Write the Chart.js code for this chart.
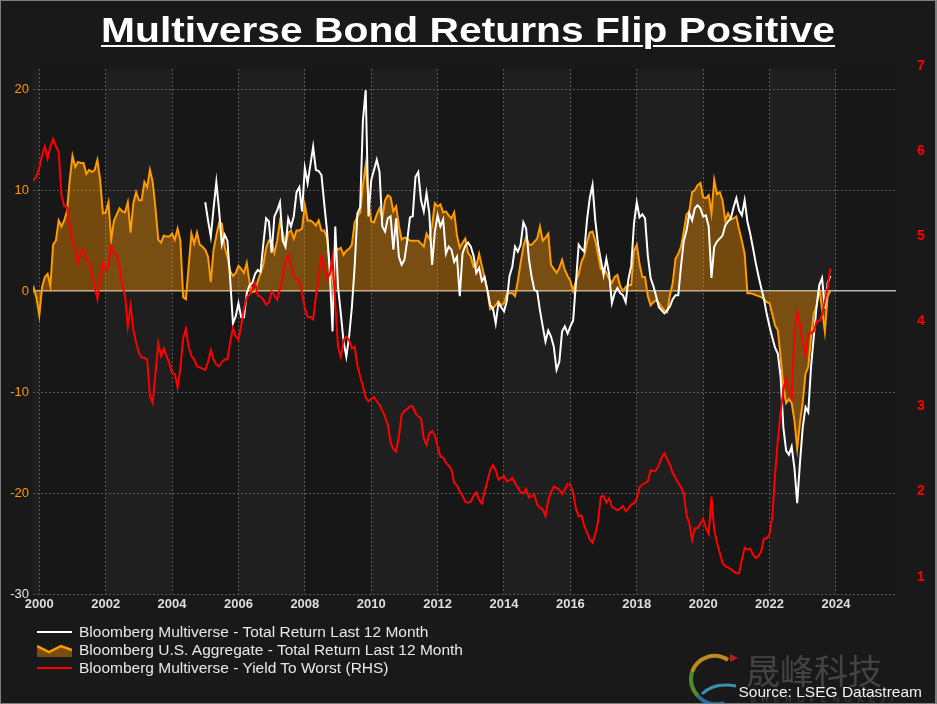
<!DOCTYPE html>
<html>
<head>
<meta charset="utf-8">
<script src="https://cdn.jsdelivr.net/npm/chart.js@4.4.0/dist/chart.umd.min.js"></script>
<style>
    html, body { margin: 0; padding: 0; background: #191919; }
    #wrap { position: relative; width: 937px; height: 704px; overflow: hidden; background: #191919; font-family: "Liberation Sans", Arial, sans-serif; }
    #chart { position: absolute; left: 0; top: 0; }
    #frame { position: absolute; left: 0; top: 0; width: 934px; height: 702px; border: 1px solid #7c7c7c; border-right-width: 2px; pointer-events: none; }
    #title { position: absolute; left: 0; top: 12px; width: 937px; text-align: center; }
    #title span { display: inline-block; font-family: "Liberation Sans", Arial, sans-serif; font-weight: bold; font-size: 35px; line-height: 36px; color: #ffffff; text-decoration: underline; text-decoration-thickness: 2px; text-underline-offset: 3px; white-space: nowrap; transform-origin: 50% 50%; }
    #legend { position: absolute; left: 37px; top: 623px; color: #e8e8e8; font-size: 15.5px; }
    .row { height: 18px; line-height: 18px; display: flex; align-items: center; white-space: nowrap; }
    .row svg { margin-right: 7px; flex: none; }
    #watermark { position: absolute; left: 746px; top: 650px; font-family: "Noto Sans CJK SC", sans-serif; font-size: 34px; line-height: 40px; color: rgba(110, 110, 110, 0.5); }
    #wmsub { position: absolute; left: 750px; top: 694px; font-size: 9px; line-height: 10px; letter-spacing: 5.6px; color: rgba(120, 120, 120, 0.45); }
    #logo { position: absolute; left: 684px; top: 650px; opacity: 0.85; }
    #source { position: absolute; right: 15px; top: 683px; font-size: 15.5px; line-height: 18px; color: #f2f2f2; }
</style>
</head>
<body>
<div id="wrap">
    <canvas id="chart" width="937" height="704"></canvas>
    <div id="title"><span id="titleText">Multiverse Bond Returns Flip Positive</span></div>
    <div id="legend">
        <div class="row"><svg width="35" height="12"><line x1="0" y1="6" x2="35" y2="6" stroke="#ffffff" stroke-width="2"/></svg>Bloomberg Multiverse - Total Return Last 12 Month</div>
        <div class="row"><svg width="35" height="14"><polygon points="0,3 12,9 24,3 35,7 35,14 0,14" fill="rgba(255,150,0,0.42)"/><polyline points="0,3 12,9 24,3 35,7" fill="none" stroke="#ff9c00" stroke-width="2.5"/></svg>Bloomberg U.S. Aggregate - Total Return Last 12 Month</div>
        <div class="row"><svg width="35" height="12"><line x1="0" y1="6" x2="35" y2="6" stroke="#ff0000" stroke-width="2"/></svg>Bloomberg Multiverse - Yield To Worst (RHS)</div>
    </div>
    <svg id="logo" width="56" height="54" viewBox="0 0 56 54">
        <path d="M44 10 A24 24 0 0 0 8 22" stroke="#d9a21b" stroke-width="4" fill="none"/>
        <path d="M8 22 A24 24 0 0 0 14 46" stroke="#5aa02c" stroke-width="4" fill="none"/>
        <path d="M14 46 A24 24 0 0 0 40 53" stroke="#2a7fc0" stroke-width="4" fill="none"/>
        <path d="M18 44 Q30 32 52 36" stroke="#3fa7c9" stroke-width="3" fill="none"/>
        <polygon points="46,4 54,8 46,12" fill="#d02020"/>
    </svg>
    <div id="watermark">晟峰科技</div>
    <div id="wmsub">SHENGFENGKEJI</div>
    <div id="source">Source: LSEG Datastream</div>
    <div id="frame"></div>
</div>
<script>
// Monthly observations, first one is Oct 1999
const startYear = 1999;
const startMonth = 10;

// Bloomberg U.S. Aggregate - total return last 12 months (%), Oct 1999 .. Oct 2023
const usAggReturn = [
    -0.5, 0.3, -0.7, -2.4, 0.4, 1.4, 1.7, 0.5, 4.6, 5.0, 7.0, 6.4, 7.0,
    7.9, 11.0, 13.4, 12.3, 12.8, 12.7, 12.7, 11.6, 12.0, 11.8,
    12.0, 13.0, 11.0, 7.7, 7.8, 8.8, 5.1, 7.0, 7.6, 8.2,
    7.9, 7.8, 8.8, 5.8, 8.7, 9.8, 9.0, 9.0, 10.8, 10.3,
    12.0, 10.8, 8.2, 5.1, 4.8, 5.5, 5.4, 5.4, 5.7, 5.1,
    6.2, 5.0, -0.6, -0.8, 2.5, 5.7, 4.7, 5.8, 4.6, 4.4,
    4.1, 3.4, 0.9, 4.1, 5.5, 6.8, 6.7, 4.4, 3.4, 2.0,
    1.5, 1.8, 2.5, 2.2, 1.8, 2.8, 0.9, -0.1, 0.0, 1.0,
    1.8, 2.6, 4.3, 5.0, 4.9, 3.8, 5.0, 6.9, 5.8, 4.5,
    5.8, 6.0, 5.2, 6.0, 6.0, 6.2, 8.5, 7.0, 7.0, 6.8,
    6.5, 7.0, 6.0, 6.0, 5.3, 2.5, 1.1, 4.4, 4.1, 4.3,
    3.6, 4.0, 4.2, 4.6, 6.8, 7.4, 7.8, 10.5, 12.5, 9.0,
    6.9, 6.8, 7.6, 8.2, 7.2, 9.0, 9.5, 9.3, 7.9, 8.4,
    6.5, 5.1, 5.3, 5.2, 5.0, 5.0, 5.0, 5.0, 4.7, 4.4,
    5.7, 5.2, 6.5, 8.7, 8.4, 8.6, 7.8, 7.9, 7.5, 7.2,
    7.8, 5.5, 4.3, 4.8, 5.2, 3.8, 3.4, 2.4, 2.5, 3.7,
    2.5, 1.3, 0.0, -1.8, -1.7, -1.4, -1.0, -1.4, -1.2, -0.3,
    -0.2, -0.2, -0.5, 1.0, 2.8, 4.4, 5.4, 4.6, 4.6, 4.9,
    5.2, 6.4, 5.0, 5.3, 5.7, 2.6, 2.2, 1.8, 2.3, 3.1,
    2.1, 1.5, 1.0, 0.0, 1.0, 1.7, 2.9, 3.5, 4.8, 5.8,
    5.9, 5.0, 3.6, 2.2, 2.3, 1.8, 1.2, 0.8, 1.4, 1.6,
    0.5, 0.0, 0.4, 0.6, 0.6, 4.0, 4.6, 2.7, 1.4, 1.4,
    -0.5, -1.4, -1.1, -0.9, -1.2, -1.6, -1.9, -2.1, -0.4, 0.8,
    3.2, 3.7, 4.4, 5.9, 7.6, 7.9, 9.8, 10.0, 10.5, 10.7,
    9.3, 9.2, 9.5, 7.7, 11.0, 9.6, 9.8, 9.0, 7.0, 7.7,
    7.1, 7.2, 7.4, 6.1, 5.0, 3.7, -0.2, -0.2, -0.3, -0.4,
    -0.5, -0.6, -0.8, -1.1, -1.2, -2.3, -3.4, -3.9, -6.5, -9.5,
    -11.1, -10.7, -11.1, -12.8, -15.6, -13.0, -11.0, -8.2, -7.5, -4.6,
    -2.2, -1.5, 0.3, -1.8, -4.0, -0.5, 0.0
];

// Bloomberg Multiverse - total return last 12 months (%), starts Jan 2005
const multiverseOffset = 63;
const multiverseReturn = [
    8.8, 7.0, 5.4, 8.2, 10.8, 8.0, 4.6, 5.6, 5.0, 1.2,
    -3.2, -2.5, -1.2, -2.6, -2.6, -0.2, 0.6, 0.8, 1.7, 2.1,
    1.9, 4.7, 7.2, 6.9, 3.8, 7.4, 8.0, 8.8, 5.0, 4.4,
    7.2, 6.4, 7.4, 9.8, 10.3, 7.9, 12.2, 10.7, 12.5, 14.3,
    12.0, 11.9, 11.5, 8.7, 6.0, 2.0, -4.0, 6.4, 0.4, -2.2,
    -5.0, -6.5, -4.5, -1.6, 2.4, 7.7, 8.3, 16.9, 19.9, 7.4,
    11.0, 12.0, 13.0, 11.8, 6.4, 5.9, 7.2, 7.4, 4.1, 7.2,
    3.4, 2.6, 3.1, 5.0, 7.3, 7.4, 11.3, 11.8, 9.0, 7.9,
    9.7, 7.7, 2.6, 5.9, 7.5, 6.4, 7.1, 3.7, 4.4, 4.1,
    2.9, 3.4, -0.5, 3.7, 4.5, 4.8, 4.4, 3.5, 1.8, 2.3,
    1.0, 1.4, 0.1, -1.4, -1.7, -3.2, -1.2, -1.6, -2.0, -1.0,
    1.5, 2.4, 4.4, 3.9, 4.6, 6.8, 6.2, 3.2, 1.4, 0.1,
    0.0, -1.9, -3.5, -5.0, -3.9, -4.5, -5.5, -7.8, -7.0, -4.0,
    -3.5, -4.2, -3.5, -2.9, 0.8, 4.6, 4.2, 3.9, 7.0, 9.2,
    10.5, 7.0, 4.6, 3.1, 1.6, 3.2, 1.7, -1.2, -0.2, 0.3,
    -0.2, -0.4, -1.1, 1.2, 2.5, 6.7, 8.8, 7.3, 7.6, 7.2,
    3.5, 1.3, 0.5, -0.5, -1.6, -1.9, -2.2, -1.9, -1.5, -0.8,
    -0.4, -0.4, 2.5, 5.0, 6.0, 7.7, 7.0, 8.2, 8.5, 8.2,
    7.4, 7.5, 6.4, 1.3, 4.4, 4.9, 5.2, 5.5, 6.5, 6.9,
    7.2, 8.3, 9.2, 8.0, 7.5, 9.0, 6.9, 5.7, 4.3, 2.8,
    1.5, 0.3, -0.8, -2.3, -3.5, -4.6, -5.6, -6.2, -8.5, -13.5,
    -15.8, -16.2, -15.4, -17.5, -21.0, -17.0, -13.5, -11.5, -12.0, -7.5,
    -4.5, -1.5, 0.6, 1.3, -1.7, 0.8, 1.5
];

// Bloomberg Multiverse - yield to worst (%), right axis, Oct 1999 .. Oct 2023
const multiverseYield = [
    5.64, 5.66, 5.70, 5.80, 5.95, 6.05, 5.91, 6.05, 6.14, 6.05, 5.99, 5.48, 5.35,
    5.34, 5.10, 4.92, 4.86, 4.68, 4.82, 4.84, 4.72, 4.70, 4.55,
    4.40, 4.26, 4.50, 4.69, 4.60, 4.63, 4.88, 4.80, 4.78, 4.62,
    4.42, 4.30, 3.94, 4.18, 3.90, 3.75, 3.63, 3.57, 3.57, 3.55,
    3.12, 3.04, 3.39, 3.74, 3.59, 3.68, 3.59, 3.51, 3.39, 3.38,
    3.22, 3.45, 3.80, 3.91, 3.70, 3.59, 3.55, 3.47, 3.46, 3.44,
    3.43, 3.52, 3.66, 3.55, 3.49, 3.47, 3.52, 3.55, 3.55, 3.75,
    3.92, 3.82, 3.78, 3.95, 4.15, 4.28, 4.31, 4.37, 4.45, 4.30,
    4.29, 4.25, 4.19, 4.22, 4.35, 4.30, 4.25, 4.38, 4.50, 4.70,
    4.77, 4.66, 4.52, 4.49, 4.48, 4.33, 4.15, 4.05, 4.05, 4.02,
    4.29, 4.50, 4.77, 4.65, 4.50, 4.55, 4.75, 4.20, 3.70, 3.58,
    3.78, 3.82, 3.78, 3.68, 3.70, 3.48, 3.35, 3.24, 3.10, 3.06,
    3.09, 3.11, 3.06, 3.02, 2.95, 2.88, 2.78, 2.57, 2.50, 2.47,
    2.65, 2.90, 2.95, 2.97, 3.00, 3.00, 2.92, 2.88, 2.86, 2.62,
    2.55, 2.68, 2.71, 2.66, 2.53, 2.41, 2.40, 2.34, 2.30, 2.26,
    2.10, 2.07, 2.00, 1.95, 1.88, 1.87, 1.88, 1.95, 1.99, 1.90,
    1.86, 2.00, 2.12, 2.25, 2.31, 2.25, 2.14, 2.16, 2.18, 2.12,
    2.13, 2.16, 2.10, 2.05, 1.99, 1.98, 2.03, 1.93, 1.95, 1.96,
    1.85, 1.81, 1.79, 1.71, 1.90, 1.99, 2.06, 2.04, 2.02, 1.97,
    2.02, 2.09, 2.08, 1.98, 1.80, 1.71, 1.72, 1.60, 1.52, 1.44,
    1.40, 1.50, 1.65, 1.94, 1.95, 1.87, 1.92, 1.82, 1.80, 1.78,
    1.80, 1.83, 1.77, 1.80, 1.85, 1.86, 1.92, 2.05, 2.08, 2.10,
    2.12, 2.25, 2.24, 2.25, 2.31, 2.40, 2.45, 2.38, 2.31, 2.22,
    2.16, 2.10, 2.05, 1.98, 1.72, 1.63, 1.43, 1.57, 1.57, 1.62,
    1.68, 1.57, 1.50, 1.94, 1.55, 1.40, 1.28, 1.16, 1.12, 1.11,
    1.09, 1.06, 1.04, 1.04, 1.20, 1.34, 1.32, 1.33, 1.26, 1.22,
    1.24, 1.30, 1.45, 1.45, 1.50, 1.70, 2.20, 2.60, 2.92, 3.20,
    3.33, 3.18, 3.10, 3.85, 4.10, 3.96, 3.75, 3.60, 3.85, 3.86,
    3.88, 4.00, 4.00, 4.08, 4.23, 4.40, 4.62
];

const yearTicks = [2000, 2002, 2004, 2006, 2008, 2010, 2012, 2014, 2016, 2018, 2020, 2022, 2024];
const leftTicks = [-30, -20, -10, 0, 10, 20];
const rightTicks = [1, 2, 3, 4, 5, 6, 7];

const FONT = '"Liberation Sans", Arial, sans-serif';

function toPoints(values, offset) {
    return values.map((v, i) => ({
        x: startYear + (startMonth - 1 + offset + i) / 12,
        y: v
    }));
}

// alternating two-year shading behind the plot
const bandPlugin = {
    id: 'bands',
    beforeDraw(chart) {
        const { ctx, chartArea, scales } = chart;
        const xs = scales.x;
        ctx.save();
        ctx.fillStyle = '#171717';
        ctx.fillRect(chartArea.left, chartArea.top, chartArea.width, chartArea.height);
        ctx.beginPath();
        ctx.rect(chartArea.left, chartArea.top, chartArea.width, chartArea.height);
        ctx.clip();
        ctx.fillStyle = '#1f1f1f';
        for (let y = 1998; y < 2028; y += 4) {
            const x0 = xs.getPixelForValue(y);
            const x1 = xs.getPixelForValue(y + 2);
            ctx.fillRect(x0, chartArea.top, x1 - x0, chartArea.height);
        }
        ctx.restore();
    }
};

const isZero = c => c.tick && c.tick.value === 0;

new Chart(document.getElementById('chart'), {
    type: 'line',
    data: {
        datasets: [
            {
                label: 'Bloomberg Multiverse - Yield To Worst (RHS)',
                data: toPoints(multiverseYield, 0),
                yAxisID: 'yRight',
                borderColor: '#ff0000',
                borderWidth: 2,
                pointRadius: 0,
                fill: false,
                order: 0
            },
            {
                label: 'Bloomberg Multiverse - Total Return Last 12 Month',
                data: toPoints(multiverseReturn, multiverseOffset),
                yAxisID: 'y',
                borderColor: '#ffffff',
                borderWidth: 2,
                pointRadius: 0,
                fill: false,
                order: 1
            },
            {
                label: 'Bloomberg U.S. Aggregate - Total Return Last 12 Month',
                data: toPoints(usAggReturn, 0),
                yAxisID: 'y',
                borderColor: '#ff9c00',
                backgroundColor: 'rgba(255, 150, 0, 0.40)',
                borderWidth: 2,
                pointRadius: 0,
                fill: 'origin',
                order: 2
            }
        ]
    },
    options: {
        responsive: false,
        animation: false,
        devicePixelRatio: 1,
        layout: { padding: { top: 69, left: 0, right: 0, bottom: 0 } },
        plugins: {
            legend: { display: false },
            title: { display: false },
            tooltip: { enabled: false }
        },
        scales: {
            x: {
                type: 'linear',
                min: 1999.81,
                max: 2025.81,
                afterBuildTicks: s => { s.ticks = yearTicks.map(v => ({ value: v })); },
                afterFit: s => { s.height = 110; },
                grid: { color: '#5a5a5a', lineWidth: 1, drawTicks: false },
                border: { display: false, dash: [2, 2] },
                ticks: {
                    color: '#dedede',
                    font: { family: FONT, size: 13, weight: 'bold' },
                    padding: 3,
                    maxRotation: 0,
                    autoSkip: false,
                    callback: v => String(v)
                }
            },
            y: {
                position: 'left',
                min: -30,
                max: 22,
                afterBuildTicks: s => { s.ticks = leftTicks.map(v => ({ value: v })); },
                afterFit: s => { s.width = 33; },
                grid: {
                    color: c => isZero(c) ? '#b4b4b4' : '#5a5a5a',
                    lineWidth: c => isZero(c) ? 1.5 : 1,
                    drawTicks: false
                },
                border: { display: false, dash: c => isZero(c) ? [] : [2, 2] },
                ticks: {
                    color: c => c.tick && c.tick.value === -30 ? '#e6e6e6' : '#ff9900',
                    font: { family: FONT, size: 13 },
                    padding: 4
                }
            },
            yRight: {
                position: 'right',
                min: 0.797,
                max: 6.961,
                afterBuildTicks: s => { s.ticks = rightTicks.map(v => ({ value: v })); },
                afterFit: s => { s.width = 41; },
                grid: { display: false, drawTicks: false },
                border: { display: false },
                ticks: {
                    color: '#ff0000',
                    font: { family: FONT, size: 14, weight: 'bold' },
                    padding: 21
                }
            }
        }
    },
    plugins: [bandPlugin]
});

// squeeze the bold title to the width it has in the reference
function fitTitle() {
    const t = document.getElementById('titleText');
    t.style.transform = 'none';
    const w = t.getBoundingClientRect().width;
    if (w > 0) t.style.transform = 'scaleX(' + (734 / w) + ')';
}
fitTitle();
if (document.fonts && document.fonts.ready) document.fonts.ready.then(fitTitle);
</script>
</body>
</html>
